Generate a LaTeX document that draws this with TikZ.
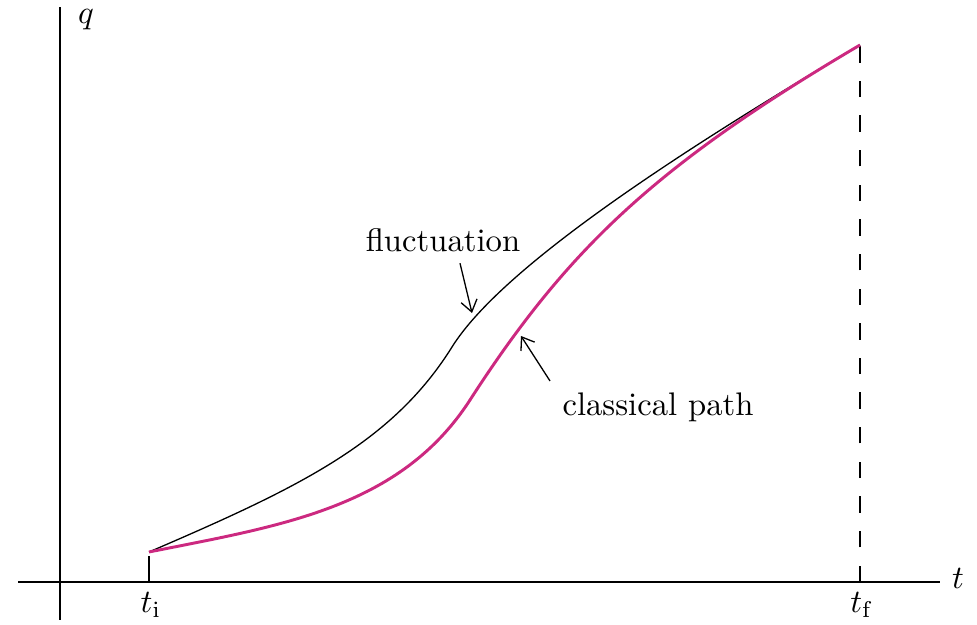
\documentclass[tikz,border=0pt]{standalone}
\usepackage{amsmath}
\usetikzlibrary{arrows.meta,positioning}
\definecolor{pathred}{RGB}{204,41,128}

\begin{document}
\begin{tikzpicture}[
    x=0.01075cm,y=-0.01075cm,
    >={Straight Barb[length=3.5pt,width=5pt]},
    axisline/.style={line width=0.5pt},
    fluct/.style={line width=0.4pt,black},
    classical/.style={line width=0.9pt,pathred},
    pointer/.style={->,line width=0.4pt}]
  \useasboundingbox (0,0) rectangle (977,625);
  % axes
  \coordinate (O) at (60,582);
  \coordinate (qtop) at (60,7);
  \coordinate (qbot) at (60,620);
  \coordinate (tleft) at (18,582);
  \coordinate (tright) at (940,582);
  \draw[axisline] (qbot) -- (qtop);
  \draw[axisline] (tleft) -- (tright);
  \node (q) at (86,20) {$q$};
  \node (t) at (958,578) {$t$};
  % end points
  \coordinate (A) at (149,552);
  \coordinate (B) at (860,45);
  \coordinate (Ai) at (149,582);
  \coordinate (Bf) at (860,582);
  \draw[axisline] (Ai) -- ++(0,-26);
  \draw[axisline,dash pattern=on 5pt off 5.6pt] (Bf) -- (B);
  \node (ti) at (151,605) {$t_{\mathrm{i}}$};
  \node (tf) at (862,605) {$t_{\mathrm{f}}$};
  % fluctuation
  \draw[fluct] (A) .. controls (299,487.5) and (392,443) .. (452,347)
    .. controls (502,267) and (680,151.2) .. (B);
  % classical path
  \draw[classical] (A) .. controls (279,526) and (400,508.5) .. (470,400)
    .. controls (570,245) and (660,163) .. (B);
  % labels
  \node (fl) at (443,240) {fluctuation};
  \node (cp) at (658,407) {classical path};
  \coordinate (fltip) at (472,313);
  \coordinate (cptip) at (521,336);
  \draw[pointer] (fl.south -| 460,0) -- (fltip);
  \draw[pointer] (cp.north -| 550,0) -- (cptip);
\end{tikzpicture}
\end{document}
